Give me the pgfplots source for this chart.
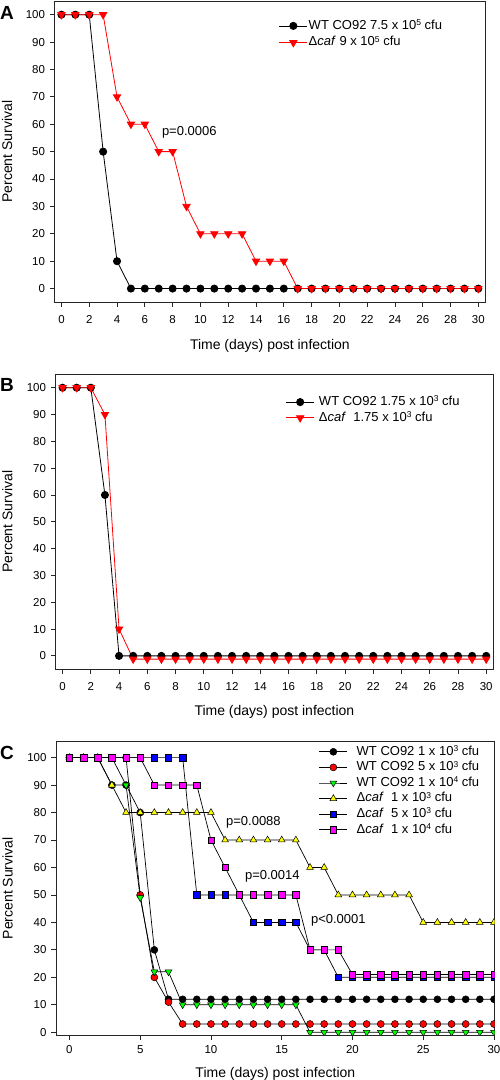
\documentclass[border=0pt]{standalone}
\usepackage{fontspec}
\setmainfont{Liberation Sans}
\usepackage{pgfplots}
\pgfplotsset{compat=1.18}

\definecolor{myred}{RGB}{255,0,0}
\definecolor{mygreen}{RGB}{0,255,0}
\definecolor{myyellow}{RGB}{255,255,0}
\definecolor{myblue}{RGB}{0,0,255}
\definecolor{mymag}{RGB}{255,0,255}

\newcommand{\sups}[1]{\raisebox{3.6bp}{\fontsize{8.5bp}{9bp}\selectfont #1}}
\newcommand{\labfont}{\fontsize{14bp}{16bp}\selectfont}

\pgfplotsset{
  panel/.style={
    scale only axis,
    anchor=south west,
    axis line style={line width=0.8bp, black!85},
    tick style={line width=0.8bp, black!85},
    tick align=outside,
    xtick pos=left, ytick pos=left,
    major tick length=4.5bp,
    ymin=-5, ymax=105, ytick={0,10,...,100},
    xmin=-0.5, xmax=30.5, xtick={0,2,...,30},
    /pgf/number format/assume math mode=true,
    ticklabel style={font=\fontsize{11.5bp}{13bp}\selectfont},
    xlabel={Time (days) post infection},
    ylabel={Percent Survival},
    legend style={draw=none, fill=none, inner sep=0pt, outer sep=0pt, anchor=north west,
      font=\fontsize{13bp}{15bp}\selectfont,
      nodes={inner xsep=0pt, inner ysep=1.5bp, text height=9.5bp, text depth=3bp},
      row sep=0pt},
    legend cell align=left,
    legend image code/.code={\draw[mark repeat=2,mark phase=2,##1] plot coordinates {(0bp,0bp)(14bp,0bp)(28bp,0bp)};},
    every axis y label/.style={at={(axis description cs:-0.11,0.5)}, rotate=90, anchor=center, font=\labfont},
    every axis x label/.style={at={(axis description cs:0.5,-0.145)}, anchor=center, font=\labfont},
    xticklabel shift=5bp, yticklabel shift=1.5bp,
  }
}

\begin{document}
\begin{tikzpicture}
\useasboundingbox (0,0) rectangle (500bp,1080bp);

% ---------------- Panel A ----------------
\begin{axis}[panel, at={(54.5bp,777.7bp)}, width=430.8bp, height=301.3bp,
  legend style={at={(0.521,0.943)}, row sep=1.2bp, /tikz/every odd column/.style={column sep=1bp}}]
\addplot[black, line width=0.8bp, mark=*, mark size=3.6bp, mark options={fill=black, draw=black}]
coordinates {(0,100)(1,100)(2,100)(3,50)(4,10)(5,0)(6,0)(7,0)(8,0)(9,0)(10,0)(11,0)(12,0)(13,0)(14,0)(15,0)(16,0)(17,0)(18,0)(19,0)(20,0)(21,0)(22,0)(23,0)(24,0)(25,0)(26,0)(27,0)(28,0)(29,0)(30,0)};
\addlegendentry{WT CO92 7.5 x 10\sups{5} cfu}
\addplot[myred, line width=0.8bp, mark=triangle*, mark size=4.2bp, mark options={rotate=180, fill=myred, draw=myred}]
coordinates {(0,100)(1,100)(2,100)(3,100)(4,70)(5,60)(6,60)(7,50)(8,50)(9,30)(10,20)(11,20)(12,20)(13,20)(14,10)(15,10)(16,10)(17,0)(18,0)(19,0)(20,0)(21,0)(22,0)(23,0)(24,0)(25,0)(26,0)(27,0)(28,0)(29,0)(30,0)};
\addlegendentry{Δ\textit{caf} 9 x 10\sups{5} cfu}
\node[font=\fontsize{13bp}{15bp}\selectfont] at (axis cs:9.2,57) {p=0.0006};
\end{axis}

% ---------------- Panel B ----------------
\begin{axis}[panel, at={(55.5bp,410.7bp)}, width=437.8bp, height=295bp,
  every axis x label/.style={at={(axis description cs:0.5,-0.144)}, anchor=center, font=\labfont},
  legend style={at={(0.526,0.932)}, row sep=0.2bp, /tikz/every odd column/.style={column sep=4.4bp}}]
\addplot[black, line width=0.8bp, mark=*, mark size=3.6bp, mark options={fill=black, draw=black}]
coordinates {(0,100)(1,100)(2,100)(3,60)(4,0)(5,0)(6,0)(7,0)(8,0)(9,0)(10,0)(11,0)(12,0)(13,0)(14,0)(15,0)(16,0)(17,0)(18,0)(19,0)(20,0)(21,0)(22,0)(23,0)(24,0)(25,0)(26,0)(27,0)(28,0)(29,0)(30,0)};
\addlegendentry{WT CO92 1.75 x 10\sups{3} cfu}
\addplot[myred, line width=0.8bp, mark=triangle*, mark size=4.2bp, mark options={rotate=180, fill=myred, draw=myred}]
coordinates {(0,100)(1,100)(2,100)(3,90)(4,10)(5,-1.2)(6,-1.2)(7,-1.2)(8,-1.2)(9,-1.2)(10,-1.2)(11,-1.2)(12,-1.2)(13,-1.2)(14,-1.2)(15,-1.2)(16,-1.2)(17,-1.2)(18,-1.2)(19,-1.2)(20,-1.2)(21,-1.2)(22,-1.2)(23,-1.2)(24,-1.2)(25,-1.2)(26,-1.2)(27,-1.2)(28,-1.2)(29,-1.2)(30,-1.2)};
\addlegendentry{Δ\textit{caf}\ \ 1.75 x 10\sups{3} cfu}
\end{axis}

% ---------------- Panel C ----------------
\begin{axis}[panel, at={(56bp,45bp)}, width=438.7bp, height=293.3bp,
  xmin=-0.95, xmax=30.05, ymin=-1, ymax=105.8, xtick={0,5,...,30},
  clip marker paths=true,
  xticklabel shift=2.5bp,
  every axis x label/.style={at={(axis description cs:0.5,-0.131)}, anchor=center, font=\labfont},
  legend style={at={(0.5995,0.992)}, row sep=0.1bp, /tikz/every odd column/.style={column sep=9bp}}]
\addplot[black, line width=0.7bp, mark=*, mark size=3.5bp, mark options={fill=black, draw=black, line width=0.5bp}]
coordinates {(0,100)(1,100)(2,100)(3,90)(4,90)(5,80)(6,30)(7,12)(8,12)(9,12)(10,12)(11,12)(12,12)(13,12)(14,12)(15,12)(16,12)(17,12)(18,12)(19,12)(20,12)(21,12)(22,12)(23,12)(24,12)(25,12)(26,12)(27,12)(28,12)(29,12)(30,12)};
\addlegendentry{WT CO92 1 x 10\sups{3} cfu}
\addplot[black, line width=0.7bp, mark=*, mark size=3.5bp, mark options={fill=myred, draw=black, line width=0.5bp}]
coordinates {(0,100)(1,100)(2,100)(3,100)(4,100)(5,50)(6,20)(7,11)(8,3)(9,3)(10,3)(11,3)(12,3)(13,3)(14,3)(15,3)(16,3)(17,3)(18,3)(19,3)(20,3)(21,3)(22,3)(23,3)(24,3)(25,3)(26,3)(27,3)(28,3)(29,3)(30,3)};
\addlegendentry{WT CO92 5 x 10\sups{3} cfu}
\addplot[black, line width=0.7bp, mark=triangle*, mark size=3.9bp, mark options={rotate=180, fill=mygreen, draw=black, line width=0.5bp}]
coordinates {(0,100)(1,100)(2,100)(3,100)(4,90)(5,49)(6,22)(7,22)(8,10)(9,10)(10,10)(11,10)(12,10)(13,10)(14,10)(15,10)(16,10)(17,0)(18,0)(19,0)(20,0)(21,0)(22,0)(23,0)(24,0)(25,0)(26,0)(27,0)(28,0)(29,0)(30,0)};
\addlegendentry{WT CO92 1 x 10\sups{4} cfu}
\addplot[black, line width=0.7bp, mark=triangle*, mark size=3.9bp, mark options={fill=myyellow, draw=black, line width=0.5bp}]
coordinates {(0,100)(1,100)(2,100)(3,90)(4,80)(5,80)(6,80)(7,80)(8,80)(9,80)(10,80)(11,70)(12,70)(13,70)(14,70)(15,70)(16,70)(17,60)(18,60)(19,50)(20,50)(21,50)(22,50)(23,50)(24,50)(25,40)(26,40)(27,40)(28,40)(29,40)(30,40)};
\addlegendentry{Δ\textit{caf}\ \ 1 x 10\sups{3} cfu}
\addplot[black, line width=0.7bp, mark=square*, mark size=3.2bp, mark options={fill=myblue, draw=black, line width=0.5bp}]
coordinates {(0,100)(1,100)(2,100)(3,100)(4,100)(5,100)(6,100)(7,100)(8,100)(9,50)(10,50)(11,50)(12,50)(13,40)(14,40)(15,40)(16,40)(17,30)(18,30)(19,20)(20,20)(21,20)(22,20)(23,20)(24,20)(25,20)(26,20)(27,20)(28,20)(29,20)(30,20)};
\addlegendentry{Δ\textit{caf}\ \ 5 x 10\sups{3} cfu}
\addplot[black, line width=0.7bp, mark=square*, mark size=3.2bp, mark options={fill=mymag, draw=black, line width=0.5bp}]
coordinates {(0,100)(1,100)(2,100)(3,100)(4,100)(5,100)(6,90)(7,90)(8,90)(9,90)(10,70)(11,60)(12,50)(13,50)(14,50)(15,50)(16,50)(17,30)(18,30)(19,30)(20,21)(21,21)(22,21)(23,21)(24,21)(25,21)(26,21)(27,21)(28,21)(29,21)(30,21)};
\addlegendentry{Δ\textit{caf}\ \ 1 x 10\sups{4} cfu}
\node[font=\fontsize{13bp}{15bp}\selectfont] at (axis cs:13.0,76.3) {p=0.0088};
\node[font=\fontsize{13bp}{15bp}\selectfont] at (axis cs:14.34,56.7) {p=0.0014};
\node[font=\fontsize{13bp}{15bp}\selectfont] at (axis cs:19.0,40.6) {p<0.0001};
\end{axis}

% panel letters
\node[anchor=west, inner sep=0pt, font=\fontsize{19bp}{20bp}\selectfont\bfseries] at (0bp,1067.3bp) {A};
\node[anchor=west, inner sep=0pt, font=\fontsize{19bp}{20bp}\selectfont\bfseries] at (0bp,695bp) {B};
\node[anchor=west, inner sep=0pt, font=\fontsize{19bp}{20bp}\selectfont\bfseries] at (0bp,326.7bp) {C};
\end{tikzpicture}
\end{document}
